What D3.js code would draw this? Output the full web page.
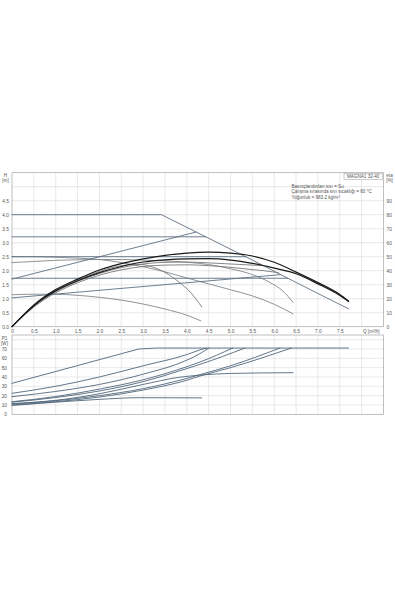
<!DOCTYPE html>
<html>
<head>
<meta charset="utf-8">
<script src="https://cdn.jsdelivr.net/npm/d3@7"></script>
<style>
  html, body { margin: 0; padding: 0; background: #fff; }
  svg { display: block; font-family: "Liberation Sans", Arial, sans-serif; }
  .grid line { stroke: #dadada; stroke-width: 0.6; }
  .frame { fill: none; stroke: #a4a4a4; stroke-width: 0.7; }
  .axis text { font-size: 4.8px; fill: #555; }
  .axis path, .axis line { display: none; }
  .unit { font-size: 4.6px; fill: #555; }
  .note { font-size: 4.6px; fill: #555; }
  .curve { fill: none; stroke-linejoin: round; stroke-linecap: round; }
  .pump { stroke: #5d7182; stroke-width: 0.9; }
  .pump-grey { stroke: #80878d; stroke-width: 0.9; }
  .eta { stroke: #1a1a1a; stroke-width: 1.2; }
  .eta-grey { stroke: #777; stroke-width: 0.9; }
  .power { stroke: #50667a; stroke-width: 0.9; }
</style>
</head>
<body>
<svg id="chart" width="395" height="592"></svg>
<script>
// tick labels
const qTicks = [0, 0.5, 1, 1.5, 2, 2.5, 3, 3.5, 4, 4.5, 5, 5.5, 6, 6.5, 7, 7.5];
const qLabels = ["0", "0.5", "1.0", "1.5", "2.0", "2.5", "3.0", "3.5", "4.0", "4.5", "5.0", "5.5", "6.0", "6.5", "7.0", "7.5"];
const headTicks = [0, 0.5, 1, 1.5, 2, 2.5, 3, 3.5, 4, 4.5];
const headLabels = ["0.0", "0.5", "1.0", "1.5", "2.0", "2.5", "3.0", "3.5", "4.0", "4.5"];
const etaTicks = [0, 10, 20, 30, 40, 50, 60, 70, 80, 90];
const powerTicks = [0, 10, 20, 30, 40, 50, 60, 70];

const infoLines = [
  "Basınçlandırılan sıvı = Su",
  "Çalışma sırasında sıvı sıcaklığı = 60 °C",
  "Yoğunluk = 983.2 kg/m³"
];

// H [m] against Q [m3/h]
const maxCurve = [[0, 4.0], [3.42, 4.0], [4.5, 3.16], [5.5, 2.38], [6.5, 1.58], [7.2, 1.03], [7.7, 0.64]];
const cpHigh = [[0, 3.21], [4.43, 3.21]];
const cpMid = [[0, 2.5], [5.35, 2.5]];
const cpLow = [[0, 1.73], [6.31, 1.73]];
const ppHigh = [[0, 1.70], [4.21, 3.38]];
const ppLow = [[0, 1.03], [6.15, 1.86]];
const speedHigh = [[0, 2.29], [0.5, 2.33], [1, 2.37], [1.5, 2.39], [2, 2.40], [2.5, 2.40], [3, 2.38], [3.5, 2.35],
  [4, 2.30], [4.5, 2.22], [5, 2.07], [5.5, 1.86], [5.9, 1.58], [6.2, 1.27], [6.43, 0.87]];
const speedMid = [[0, 2.50], [0.5, 2.50], [1, 2.48], [1.5, 2.45], [2, 2.40], [2.5, 2.29], [3, 2.14], [3.5, 1.96],
  [4, 1.74], [4.5, 1.53], [5, 1.32], [5.5, 1.10], [6, 0.80], [6.43, 0.46]];
const speedMin = [[0, 1.14], [0.5, 1.16], [1, 1.16], [1.5, 1.12], [2, 1.05], [2.5, 0.95], [3, 0.81], [3.5, 0.63],
  [4, 0.41], [4.32, 0.21]];

// eta [%] against Q [m3/h]
const etaMax = [[0, 0], [0.25, 8], [0.5, 15.5], [0.75, 21.5], [1, 26.5], [1.5, 34], [2, 40.5], [2.5, 45], [3, 48.5],
  [3.5, 51], [4, 52.6], [4.5, 53.2], [5, 52.6], [5.5, 50.5], [6, 46], [6.5, 39], [7, 31.5], [7.5, 23], [7.7, 18.4]];
const etaMid = [[0, 0], [0.25, 7.7], [0.5, 15], [0.75, 20.8], [1, 25.6], [1.5, 32.8], [2, 38.6], [2.5, 43], [3, 46.2],
  [3.5, 47.8], [4, 48.5], [4.5, 48.6], [5, 47.6], [5.5, 45.2], [6, 41.8], [6.5, 37.8], [7, 30.6], [7.5, 22.3], [7.7, 18]];
const etaMin = [[0, 0], [0.25, 7.8], [0.5, 15], [0.75, 21], [1, 26], [1.5, 33.5], [2, 39.5], [2.5, 43.6], [2.9, 44.6],
  [3.2, 42.8], [3.5, 38.8], [3.8, 32.4], [4.1, 24], [4.34, 14.2]];
const etaGreyA = [[0, 0], [0.5, 14.6], [1, 25], [1.5, 32.4], [2, 38], [2.5, 42.2], [3, 44.8], [3.5, 46], [4, 46.2],
  [4.5, 45.6], [5, 44.8], [5.5, 44], [5.75, 43.6]];
const etaGreyB = [[0, 0], [0.5, 14], [1, 24.2], [1.5, 31.4], [2, 36.8], [2.5, 40.6], [3, 43], [3.5, 44], [4, 44.2],
  [4.5, 43.6], [5, 42.4], [5.5, 40.8], [6, 39], [6.1, 38.4]];

// P1 [W] against Q [m3/h]
const powerMax = [[0, 33.2], [2.9, 70], [3.3, 71], [7.7, 71]];
const powerA = [[0, 22.5], [1, 30], [2, 40], [3, 52], [4, 64], [4.3, 69], [4.45, 71]];
const powerB = [[0, 18.9], [1, 24.5], [2, 32], [3, 43], [4, 58], [4.3, 65], [4.5, 71]];
const powerC = [[0, 13.5], [1, 19], [2, 27], [3, 37], [4, 51], [4.3, 56], [5.05, 71]];
const powerD = [[0, 13], [1, 18], [2, 25], [3, 35], [4, 49], [4.3, 53.5], [5.33, 71]];
const powerE = [[0, 11], [1, 14.5], [2, 20], [3, 27.5], [4, 38.5], [4.3, 42.5], [5, 52], [6.13, 71]];
const powerF = [[0, 10], [1, 13.5], [2, 18.5], [3, 26], [4, 36.5], [4.3, 41], [5, 50], [6.39, 71]];
const powerG = [[0, 11.5], [1, 15], [2, 22], [3, 32], [3.8, 39.5], [4.3, 42], [5, 43.8], [6.43, 44.6]];
const powerMin = [[0, 9.5], [1, 13], [2, 16], [2.9, 17.8], [4.34, 17.6]];

(function () {
  "use strict";

  const svg = d3.select("#chart");

  const x = d3.scaleLinear().domain([0, 8.5]).range([12, 383.5]);
  const yHead = d3.scaleLinear().domain([0, 5.5]).range([326.7, 172.7]);
  const yEta = d3.scaleLinear().domain([0, 110]).range([326.7, 172.7]);
  const yPower = d3.scaleLinear().domain([0, 85]).range([414.3, 335]);

  function panel(yScale, count) {
    const [qMin, qMax] = x.domain();
    const [vMin, vMax] = yScale.domain();
    const grid = svg.append("g").attr("class", "grid");
    grid.selectAll("line.v")
      .data(x.ticks(17).filter((d) => d > qMin && d < qMax))
      .join("line")
      .attr("class", "v")
      .attr("x1", x).attr("x2", x)
      .attr("y1", yScale(vMin)).attr("y2", yScale(vMax));
    grid.selectAll("line.h")
      .data(yScale.ticks(count).filter((d) => d > vMin && d < vMax))
      .join("line")
      .attr("class", "h")
      .attr("x1", x(qMin)).attr("x2", x(qMax))
      .attr("y1", yScale).attr("y2", yScale);
    svg.append("rect")
      .attr("class", "frame")
      .attr("x", x(qMin)).attr("y", yScale(vMax))
      .attr("width", x(qMax) - x(qMin))
      .attr("height", yScale(vMin) - yScale(vMax));
  }

  panel(yHead, 11);
  panel(yPower, 9);

  // axes
  svg.append("g")
    .attr("class", "axis")
    .attr("transform", `translate(0,${yHead(0)})`)
    .call(d3.axisBottom(x).tickValues(qTicks).tickFormat((d, i) => qLabels[i]).tickSize(0).tickPadding(2.6));

  svg.append("g")
    .attr("class", "axis")
    .attr("transform", `translate(${x(0)},0)`)
    .call(d3.axisLeft(yHead).tickValues(headTicks).tickFormat((d, i) => headLabels[i]).tickSize(0).tickPadding(3));

  svg.append("g")
    .attr("class", "axis")
    .attr("transform", `translate(${x(8.5)},0)`)
    .call(d3.axisRight(yEta).tickValues(etaTicks).tickSize(0).tickPadding(3));

  svg.append("g")
    .attr("class", "axis")
    .attr("transform", `translate(${x(0)},0)`)
    .call(d3.axisLeft(yPower).tickValues(powerTicks).tickSize(0).tickPadding(5));

  // axis units
  const units = [
    { text: "H", x: 5.5, y: 176.5 },
    { text: "[m]", x: 5.5, y: 182 },
    { text: "eta", x: 389.5, y: 176.5 },
    { text: "[%]", x: 389.5, y: 182 },
    { text: "P1", x: 4.5, y: 339.5 },
    { text: "[W]", x: 4.5, y: 344.5 }
  ];
  svg.append("g").selectAll("text")
    .data(units)
    .join("text")
    .attr("class", "unit")
    .attr("x", (d) => d.x).attr("y", (d) => d.y)
    .attr("text-anchor", "middle")
    .text((d) => d.text);

  svg.append("text")
    .attr("class", "unit")
    .attr("x", 363).attr("y", 332.6)
    .text("Q [m³/h]");

  // model box and notes
  svg.append("rect")
    .attr("x", 344).attr("y", 173.4)
    .attr("width", 38.5).attr("height", 6.2)
    .attr("fill", "#fff").attr("stroke", "#999").attr("stroke-width", 0.5);
  svg.append("text")
    .attr("class", "note")
    .attr("x", 363.2).attr("y", 178.2)
    .attr("text-anchor", "middle")
    .text("MAGNA1 32-40");

  svg.append("g").selectAll("text")
    .data(infoLines)
    .join("text")
    .attr("class", "note")
    .attr("x", 291.5)
    .attr("y", (d, i) => 187.6 + i * 5.5)
    .text((d) => d);

  // curves
  const line = (yScale, smooth) => d3.line()
    .x((d) => x(d[0]))
    .y((d) => yScale(d[1]))
    .curve(smooth ? d3.curveMonotoneX : d3.curveLinear);

  function plot(data, yScale, cls, smooth = true) {
    svg.append("path")
      .datum(data)
      .attr("class", "curve " + cls)
      .attr("d", line(yScale, smooth));
  }

  [speedHigh, speedMid, speedMin].forEach((c) => plot(c, yHead, "pump-grey"));
  [etaGreyA, etaGreyB].forEach((c) => plot(c, yEta, "eta-grey"));
  [cpHigh, cpMid, cpLow, ppHigh, ppLow, maxCurve].forEach((c) => plot(c, yHead, "pump", false));
  plot(etaMin, yEta, "eta-grey");
  [etaMid, etaMax].forEach((c) => plot(c, yEta, "eta"));

  plot(powerMax, yPower, "power", false);
  [powerA, powerB, powerC, powerD, powerE, powerF, powerG, powerMin]
    .forEach((c) => plot(c, yPower, "power"));
})();
</script>
</body>
</html>
